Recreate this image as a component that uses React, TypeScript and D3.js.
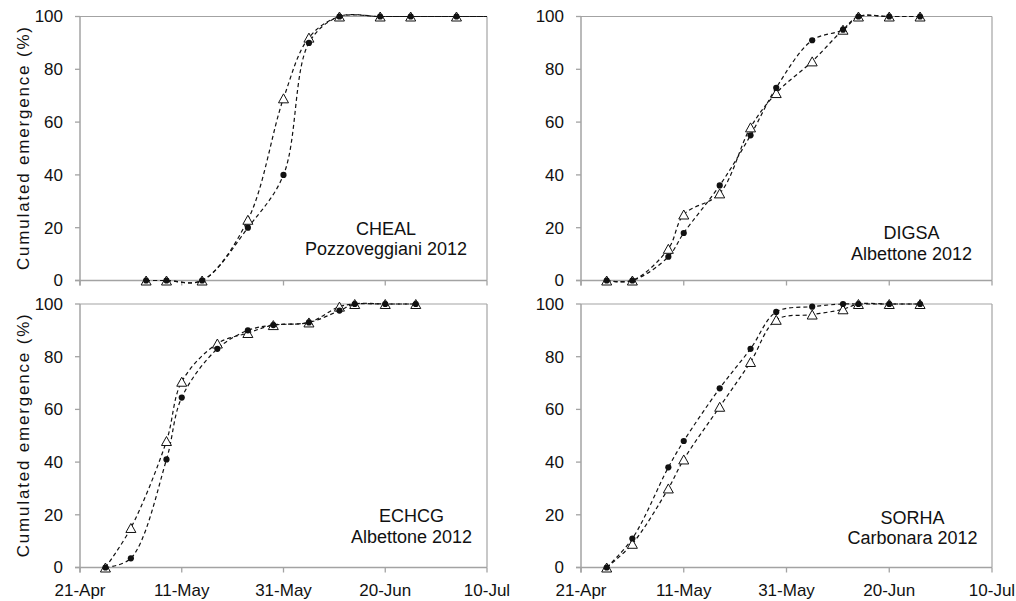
import React from 'react';
import * as d3 from 'd3';

const YEAR = 2012;
const parseDay = (s: string) => d3.utcParse('%d-%b-%Y')(`${s}-${YEAR}`) as Date;

const xTickLabels = ['21-Apr', '11-May', '31-May', '20-Jun', '10-Jul'];
const yTicks = [0, 20, 40, 60, 80, 100];
const yTitle = 'Cumulated emergence (%)';

// CHEAL – Pozzoveggiani 2012
const chealDates = ['4-May', '8-May', '15-May', '24-May', '31-May', '5-Jun', '11-Jun', '19-Jun', '25-Jun', '4-Jul'];
const chealCircles = [0, 0, 0, 20, 40, 90, 100, 100, 100, 100];
const chealTriangles = [0, 0, 0, 23, 69, 92, 100, 100, 100, 100];
const chealTailDate = '10-Jul';
const chealTailValue = 100;

// DIGSA – Albettone 2012
const digsaDates = ['26-Apr', '1-May', '8-May', '11-May', '18-May', '24-May', '29-May', '5-Jun', '11-Jun', '14-Jun', '20-Jun', '26-Jun'];
const digsaCircles = [0, 0, 9, 18, 36, 55, 73, 91, 95, 100, 100, 100];
const digsaTriangles = [0, 0, 12, 25, 33, 58, 71, 83, 95, 100, 100, 100];

// ECHCG – Albettone 2012
const echcgDates = ['26-Apr', '1-May', '8-May', '11-May', '18-May', '24-May', '29-May', '5-Jun', '11-Jun', '14-Jun', '20-Jun', '26-Jun'];
const echcgCircles = [0, 3.5, 41, 64.5, 83, 90, 92, 93, 97.5, 100, 100, 100];
const echcgTriangles = [0, 15, 48, 70.5, 85, 89, 92, 93, 99, 100, 100, 100];

// SORHA – Carbonara 2012
const sorhaDates = ['26-Apr', '1-May', '8-May', '11-May', '18-May', '24-May', '29-May', '5-Jun', '11-Jun', '14-Jun', '20-Jun', '26-Jun'];
const sorhaCircles = [0, 11, 38, 48, 68, 83, 97, 99, 100, 100, 100, 100];
const sorhaTriangles = [0, 9, 30, 41, 61, 78, 94, 96, 98, 100, 100, 100];

type Panel = {
  species: string;
  site: string;
  dates: string[];
  circles: number[];
  triangles: number[];
  tailDate?: string;
  tailValue?: number;
  x0: number; x1: number; yTop: number; yBot: number;
  showXLabels: boolean; showYTitle: boolean;
  labelX: number; labelY1: number; labelY2: number;
};

const LEFT = { x0: 80, x1: 487 };
const RIGHT = { x0: 581, x1: 992 };
const TOP = { yTop: 16.5, yBot: 280.5 };
const BOTTOM = { yTop: 304, yBot: 567.5 };

const panels: Panel[] = [
  { species: 'CHEAL', site: 'Pozzoveggiani 2012', dates: chealDates, circles: chealCircles, triangles: chealTriangles,
    tailDate: chealTailDate, tailValue: chealTailValue,
    ...LEFT, ...TOP, showXLabels: false, showYTitle: true, labelX: 386, labelY1: 229, labelY2: 249 },
  { species: 'DIGSA', site: 'Albettone 2012', dates: digsaDates, circles: digsaCircles, triangles: digsaTriangles,
    ...RIGHT, ...TOP, showXLabels: false, showYTitle: false, labelX: 911.5, labelY1: 233, labelY2: 254 },
  { species: 'ECHCG', site: 'Albettone 2012', dates: echcgDates, circles: echcgCircles, triangles: echcgTriangles,
    ...LEFT, ...BOTTOM, showXLabels: true, showYTitle: true, labelX: 411.5, labelY1: 516, labelY2: 537 },
  { species: 'SORHA', site: 'Carbonara 2012', dates: sorhaDates, circles: sorhaCircles, triangles: sorhaTriangles,
    ...RIGHT, ...BOTTOM, showXLabels: true, showYTitle: false, labelX: 912.5, labelY1: 517.5, labelY2: 538 },
];

const AXIS = '#a3a3a3';
const FONT = '"Liberation Sans", Arial, sans-serif';
const TEXT = '#111';

function PanelView({ p }: { p: Panel }) {
  const x = d3.scaleUtc()
    .domain([parseDay(xTickLabels[0]), parseDay(xTickLabels[xTickLabels.length - 1])])
    .range([p.x0, p.x1]);
  const y = d3.scaleLinear().domain([0, 100]).range([p.yBot, p.yTop]);
  const line = d3.line<[Date, number]>()
    .x(d => x(d[0]))
    .y(d => y(d[1]))
    .curve(d3.curveCatmullRom.alpha(0.5));

  const dts = p.dates.map(parseDay);
  const circPts: [Date, number][] = dts.map((d, i) => [d, p.circles[i]]);
  const triPts: [Date, number][] = dts.map((d, i) => [d, p.triangles[i]]);
  const tail: [Date, number][] = p.tailDate ? [[parseDay(p.tailDate), p.tailValue as number]] : [];

  const tri = (cx: number, cy: number) => {
    const w = 10, h = 9;
    return `M${cx},${cy - h / 2}L${cx + w / 2},${cy + h / 2}L${cx - w / 2},${cy + h / 2}Z`;
  };

  const midY = (p.yTop + p.yBot) / 2;

  return (
    <g>
      {/* plot frame */}
      <line x1={p.x0} x2={p.x1} y1={p.yTop} y2={p.yTop} stroke={AXIS} strokeWidth={1.2} />
      <line x1={p.x1} x2={p.x1} y1={p.yTop} y2={p.yBot} stroke={AXIS} strokeWidth={1.2} />
      <line x1={p.x0} x2={p.x0} y1={p.yTop} y2={p.yBot + 5} stroke={AXIS} strokeWidth={1.5} />
      <line x1={p.x0 - 5} x2={p.x1} y1={p.yBot} y2={p.yBot} stroke={AXIS} strokeWidth={1.5} />
      {yTicks.map(t => (
        <g key={'y' + t}>
          <line x1={p.x0 - 5} x2={p.x0} y1={y(t)} y2={y(t)} stroke={AXIS} strokeWidth={1.3} />
          <text x={p.x0 - 17} y={y(t)} dy="0.35em" textAnchor="end" fontSize={17} fontFamily={FONT} fill={TEXT}>{t}</text>
        </g>
      ))}
      {xTickLabels.map(lbl => {
        const xx = x(parseDay(lbl));
        return (
          <g key={'x' + lbl}>
            <line x1={xx} x2={xx} y1={p.yBot} y2={p.yBot + 5} stroke={AXIS} strokeWidth={1.3} />
            {p.showXLabels && (
              <text x={xx} y={p.yBot + 28.5} textAnchor="middle" fontSize={17} fontFamily={FONT} fill={TEXT}>{lbl}</text>
            )}
          </g>
        );
      })}
      {p.showYTitle && (
        <text transform={`translate(${29},${midY}) rotate(-90)`} textAnchor="middle" fontSize={17}
          fontFamily={FONT} fill={TEXT} textLength={243} lengthAdjust="spacing">{yTitle}</text>
      )}
      {/* series lines */}
      <path d={line([...triPts, ...tail]) || ''} fill="none" stroke="#111" strokeWidth={1.2} strokeDasharray="4,3" />
      <path d={line([...circPts, ...tail]) || ''} fill="none" stroke="#111" strokeWidth={1.2} strokeDasharray="4,3" />
      {/* markers */}
      {triPts.map((d, i) => (
        <path key={'t' + i} d={tri(x(d[0]), y(d[1]))} fill="#fff" stroke="#111" strokeWidth={1} />
      ))}
      {circPts.map((d, i) => (
        <circle key={'c' + i} cx={x(d[0])} cy={y(d[1])} r={3.1} fill="#111" />
      ))}
      {/* annotation */}
      <text x={p.labelX} y={p.labelY1} dy="0.35em" textAnchor="middle" fontSize={18} fontFamily={FONT} fill={TEXT}>{p.species}</text>
      <text x={p.labelX} y={p.labelY2} dy="0.35em" textAnchor="middle" fontSize={18} fontFamily={FONT} fill={TEXT}>{p.site}</text>
    </g>
  );
}

export default function App() {
  return (
    <svg width={1016} height={601} style={{ position: 'absolute', left: 0, top: 0, background: '#fff' }}>
      <rect x={0} y={0} width={1016} height={601} fill="#fff" />
      {panels.map(p => <PanelView key={p.species} p={p} />)}
    </svg>
  );
}
